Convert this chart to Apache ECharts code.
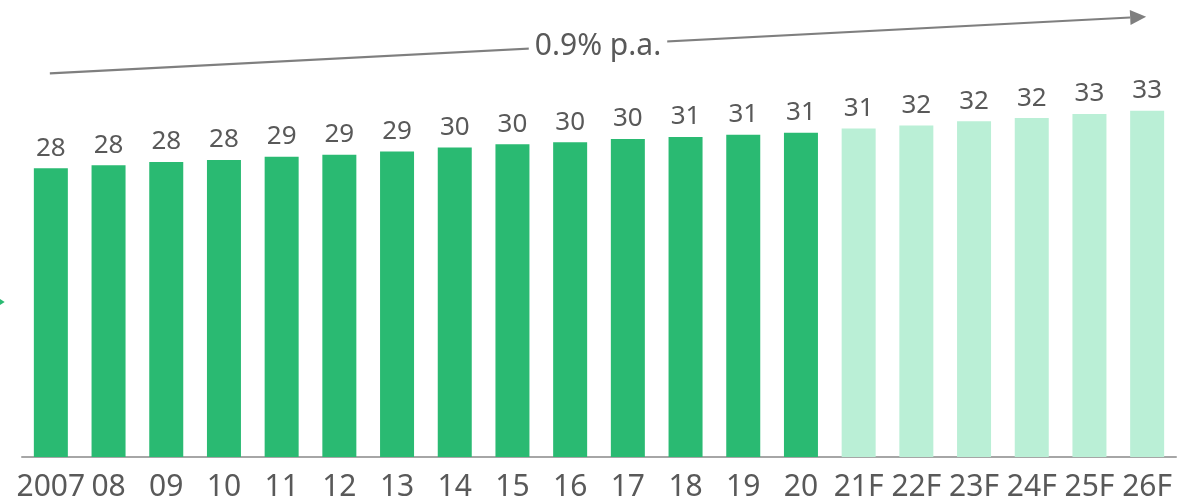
<!DOCTYPE html>
<html>
<head>
<meta charset="utf-8">
<title>Market volume 2007–2026F</title>
<script src="https://cdn.jsdelivr.net/npm/echarts@6/dist/echarts.min.js"></script>
<style>
  html, body { margin: 0; padding: 0; background: #ffffff; }
  #chart { width: 1194px; height: 503px; }
</style>
</head>
<body>
<div id="chart"></div>
<script>
// Years (F = forecast) and yearly volumes
const categories = ['2007', '08', '09', '10', '11', '12', '13', '14', '15', '16',
                    '17', '18', '19', '20', '21F', '22F', '23F', '24F', '25F', '26F'];
const values = [27.6, 27.9, 28.2, 28.4, 28.7, 28.9, 29.2, 29.6, 29.9, 30.1,
                30.4, 30.6, 30.8, 31.0, 31.4, 31.7, 32.1, 32.4, 32.8, 33.1];
const growthLabel = '0.9% p.a.';

const ACTUAL = '#2aba72';
const FORECAST = '#baefd6';
const TEXT = '#595959';
const FONT = 'Noto Sans';

const chart = echarts.init(document.getElementById('chart'), null, { renderer: 'canvas' });

chart.setOption({
  animation: false,
  backgroundColor: '#ffffff',
  grid: { left: 22, right: 18, top: 38.6, bottom: 46, containLabel: false },
  xAxis: {
    type: 'category',
    data: categories,
    axisLine: { show: true, lineStyle: { color: '#a6a6a6', width: 2 } },
    axisTick: { show: false },
    axisLabel: {
      interval: 0,
      margin: 15,
      color: TEXT,
      fontFamily: FONT,
      fontSize: 30
    }
  },
  yAxis: {
    type: 'value',
    min: 0,
    max: 40,
    show: false,
    splitLine: { show: false }
  },
  series: [{
    type: 'bar',
    data: values,
    barWidth: 34,
    itemStyle: {
      color: (p) => (categories[p.dataIndex].endsWith('F') ? FORECAST : ACTUAL)
    },
    label: {
      show: true,
      position: 'top',
      distance: 7,
      color: TEXT,
      fontFamily: FONT,
      fontSize: 26,
      formatter: (p) => String(Math.round(p.value))
    }
  }]
});

// Growth arrow spanning the first to the last column, with the CAGR text
const x0 = chart.convertToPixel({ xAxisIndex: 0 }, categories[0]) - 1;
const x1 = chart.convertToPixel({ xAxisIndex: 0 }, categories[categories.length - 1]) - 1;
const y0 = 73.3;
const y1 = 16.7;
const ang = Math.atan2(y1 - y0, x1 - x0);
const headLen = 16, headHalf = 7.5;
const bx = x1 - headLen * Math.cos(ang), by = y1 - headLen * Math.sin(ang);
const nx = -Math.sin(ang), ny = Math.cos(ang);
const tx = 598, ty = y0 + (y1 - y0) * (tx - x0) / (x1 - x0);

chart.setOption({
  graphic: [
    {
      type: 'line',
      shape: { x1: x0, y1: y0, x2: bx, y2: by },
      style: { stroke: '#7f7f7f', lineWidth: 2.2 },
      z: 10
    },
    {
      type: 'polygon',
      shape: { points: [[x1, y1], [bx + nx * headHalf, by + ny * headHalf], [bx - nx * headHalf, by - ny * headHalf]] },
      style: { fill: '#7f7f7f' },
      z: 10
    },
    {
      type: 'text',
      x: tx,
      y: ty + 1,
      style: {
        text: growthLabel,
        fill: TEXT,
        font: '30px "' + FONT + '"',
        align: 'center',
        verticalAlign: 'middle',
        backgroundColor: '#ffffff',
        padding: [4, 6]
      },
      z: 11
    },
    {
      // small marker at the left edge
      type: 'polygon',
      shape: { points: [[0, 299], [4.7, 302], [0, 305]] },
      style: { fill: ACTUAL },
      z: 10
    }
  ]
});
</script>
</body>
</html>
